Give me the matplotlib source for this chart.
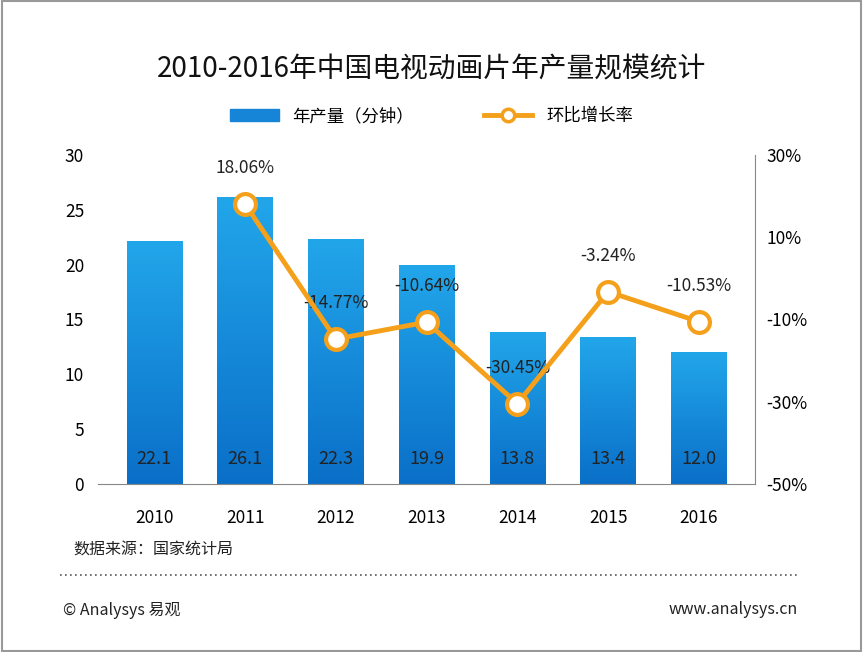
import numpy as np
import matplotlib.pyplot as plt
from matplotlib.colors import LinearSegmentedColormap
from matplotlib.patches import Rectangle
from matplotlib.lines import Line2D

plt.rcParams['font.family'] = ['Noto Sans CJK SC', 'DejaVu Sans']

years = ["2010", "2011", "2012", "2013", "2014", "2015", "2016"]
output = [22.1, 26.1, 22.3, 19.9, 13.8, 13.4, 12.0]
growth = [None, 18.06, -14.77, -10.64, -30.45, -3.24, -10.53]

fig = plt.figure(figsize=(8.63, 6.52), dpi=100)
ax = fig.add_axes([0.1136, 0.2577, 0.7614, 0.5046])
x = np.arange(len(years))
w = 0.61

cmap = LinearSegmentedColormap.from_list("b", ["#0a6fc8", "#22a6ea"])
grad = np.linspace(0, 1, 256).reshape(-1, 1)
for xi, v in zip(x, output):
    ax.imshow(grad, cmap=cmap, origin="lower", aspect="auto",
              extent=(xi - w / 2, xi + w / 2, 0, v), zorder=2)
    ax.text(xi, 2.3, f"{v:.1f}", ha="center", va="center", fontsize=13, color="#222222", zorder=3)

ax.set_xlim(-0.62, len(years) - 0.38)
ax.set_ylim(0, 30)
ax.set_yticks(range(0, 31, 5))
ax.set_xticks(x)
ax.set_xticklabels(years)
ax.tick_params(axis="y", labelsize=12.5, length=0, pad=10)
ax.tick_params(axis="x", labelsize=12.5, length=0, pad=18)
for s in ["top", "right", "left"]:
    ax.spines[s].set_visible(False)
ax.spines["bottom"].set_color("#888888")

ax2 = ax.twinx()
ax2.set_ylim(-50, 30)
ax2.set_yticks(range(-50, 31, 20))
ax2.set_yticklabels([f"{t}%" for t in range(-50, 31, 20)])
ax2.tick_params(labelsize=12.5, length=0, pad=8)
ax2.spines["right"].set_color("#888888")
for s in ["top", "left", "bottom"]:
    ax2.spines[s].set_visible(False)
gx = x[1:]
gy = growth[1:]
ax2.plot(gx, gy, color="#f5a01a", lw=3.5, marker="o", ms=15, mfc="white",
         mec="#f5a01a", mew=3, zorder=4)
for xi, g in zip(gx, gy):
    ax2.text(xi, g + 6.5, f"{g:.2f}%", ha="center", va="bottom", fontsize=12.5, color="#222222")
ax.set_xlim(-0.62, len(years) - 0.38)

fig.text(0.5, 0.893, "2010-2016年中国电视动画片年产量规模统计", ha="center", va="center",
         fontsize=20, color="#111111")
h1 = Rectangle((0, 0), 1, 1, color="#1685d8")
h2 = Line2D([], [], color="#f5a01a", lw=3.5, marker="o", ms=9, mfc="white", mec="#f5a01a", mew=2.5)
fig.legend([h1, h2], ["年产量（分钟）", "环比增长率"], loc="center", bbox_to_anchor=(0.5, 0.822),
           ncol=2, frameon=False, fontsize=12.5, columnspacing=4, handlelength=2.8)

fig.text(0.085, 0.157, "数据来源：国家统计局", fontsize=11.5, va="center", color="#222222")
fig.add_artist(Line2D([0.07, 0.925], [0.118, 0.118], color="#555555", lw=1.2, ls=(0, (1, 2))))
fig.text(0.073, 0.063, "© Analysys 易观", fontsize=11.5, va="center", color="#222222")
fig.text(0.925, 0.065, "www.analysys.cn", fontsize=11.5, va="center", ha="right", color="#222222")
fig.add_artist(Rectangle((0.002, 0.002), 0.996, 0.996, fill=False, ec="#999999", lw=1.5,
                         transform=fig.transFigure))

fig.savefig("out.png", dpi=100)
